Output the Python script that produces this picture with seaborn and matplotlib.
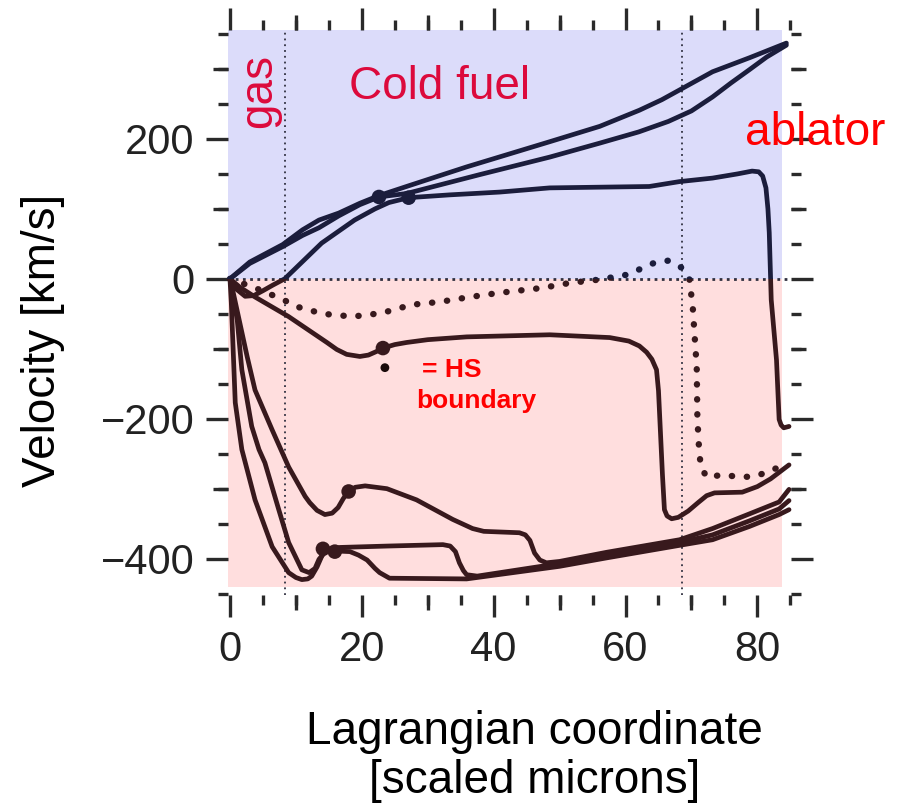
import matplotlib
matplotlib.use("Agg")
import matplotlib.pyplot as plt
from matplotlib.patches import Rectangle
from matplotlib.ticker import MultipleLocator
import pandas as pd
import seaborn as sns

# ---------------- data (Lagrangian coordinate [scaled microns], velocity [km/s]) ----------------
b1_x = [0, 3.0, 8.0, 11.0, 13.5, 16.5, 19.7, 22.6, 27.1, 35.9, 48.5, 56.1, 62.1, 65.5, 68.2, 73.2, 78.8, 84.4]
b1_v = [0, 24, 49, 70, 84, 94, 108, 119, 133, 160, 196, 218, 241, 256, 270, 296, 316, 337]

b2_x = [0, 3.0, 8.0, 11.0, 13.5, 16.5, 19.7, 22.6, 26.8, 37.9, 48.5, 56.1, 62.0, 66.5, 70.0, 73.2, 76.0, 78.8, 81.4, 84.4]
b2_v = [0, 22, 46, 62, 73, 90, 106, 117, 122, 149, 174, 194, 210, 225, 240, 260, 280, 299, 317, 334]

b3_x = [0, 1.0, 2.3, 3.6, 5.0, 6.5, 8.3, 13.9, 18.9, 22.0, 24.1, 27.1, 33.3, 40.9, 48.5, 56.0, 63.6, 68.2, 73.2,
        77.0, 79.2, 80.2, 80.8, 81.3, 81.6, 81.8, 82.1, 82.9, 83.3, 83.6, 84.0, 84.8]
b3_v = [0, -15, -25, -24, -17, -9, 0, 51, 84, 100, 109, 116, 120, 124, 130, 131, 132, 139, 144,
        150, 154, 153, 147, 130, 100, 66, -30, -116, -201, -209, -213, -211]

s1_x = [0, 1.5, 3.8, 8.9, 14.7, 16.2, 17.7, 19.7, 21.0, 22.2, 23.2, 25.0, 26.8, 30.0, 35.9, 48.5, 57.6,
        60.5, 62.1, 63.2, 64.0, 64.7, 65.0, 65.3, 65.6, 65.9, 66.3, 67.0, 68.0, 69.5, 71.0, 72.3,
        73.5, 77.7, 80.0, 82.0, 84.8]
s1_v = [0, -12, -26, -54, -91, -101, -108, -111, -109, -104, -99, -94, -91, -87, -83, -80, -84,
        -89, -96, -105, -115, -130, -160, -220, -280, -330, -339, -343, -341, -332, -320, -310,
        -306, -305, -297, -286, -266]

s2_x = [0, 0.5, 2.6, 3.8, 6.4, 8.9, 11.4, 12.1, 13.2, 14.4, 15.5, 16.4, 17.2, 18.0, 19.0, 20.5, 23.8,
        28.3, 33.8, 36.8, 38.5, 43.9, 44.8, 45.5, 46.2, 47.0, 48.0, 50.0, 57.1, 68.2, 73.2, 78.8, 83.3, 84.8]
s2_v = [0, -20, -111, -159, -216, -269, -311, -320, -331, -337, -335, -327, -314, -304, -298, -296, -300,
        -316, -344, -357, -361, -363, -366, -374, -392, -402, -406, -404, -391, -373, -357, -336, -319, -301]

s3_x = [0, 0.2, 0.8, 1.8, 3.8, 6.4, 8.9, 10.0, 10.9, 11.8, 12.4, 13.2, 13.9, 14.4, 16.7, 24.0, 32.3, 33.4,
        34.2, 34.8, 35.4, 35.9, 37.5, 50.0, 57.1, 68.2, 73.2, 78.8, 83.3, 84.8]
s3_v = [0, -34, -177, -244, -316, -383, -420, -427, -430, -429, -425, -412, -397, -387, -384, -382, -380, -382,
        -390, -406, -417, -423, -425, -407, -394, -377, -366, -346, -329, -317]

s4_x = [0, 1.1, 1.8, 3.3, 4.4, 5.3, 7.4, 8.9, 10.9, 12.0, 12.9, 13.5, 14.3, 15.2, 15.9, 18.2, 19.5,
        20.8, 22.0, 22.7, 24.2, 35.9, 50.0, 57.1, 68.2, 73.2, 78.8, 83.3, 84.8]
s4_v = [0, -59, -130, -211, -244, -263, -330, -377, -416, -420, -414, -401, -392, -388, -389, -390, -395,
        -402, -414, -420, -428, -429, -411, -399, -381, -373, -354, -337, -330]

dot_x = [0, 3.8, 7.9, 10.2, 14.1, 18.6, 23.0, 27.6, 31.8, 36.4, 40.9, 47.4, 51.5, 56.1, 60.3, 64.4,
         66.5, 68.5, 69.7, 70.2, 70.5, 70.8, 70.9, 71.2, 71.5, 72.4, 74.7, 77.0, 79.2, 81.4, 83.3]
dot_v = [0, -13, -29, -40, -50, -54, -49, -37, -33, -26, -20, -13, -6, -1, 6, 23,
         26, 16, -1, -41, -84, -126, -200, -251, -271, -284, -280, -283, -283, -277, -269]

hs_x = [23.2, 18.0, 14.1, 15.9, 22.6, 27.1]
hs_v = [-99, -304, -386, -390, 117, 116]

region_x = [8.3, 68.5]          # gas / cold fuel / ablator boundaries
xticks_major = [0, 20, 40, 60, 80]
yticks_major = [-400, -200, 0, 200]
xticks_mid = [10, 30, 50, 70]
yticks_mid = [-300, -100, 100, 300]

# ---------------- style ----------------
sns.set_theme(style="white")
plt.rcParams["font.family"] = ["Liberation Sans", "DejaVu Sans"]

NAVY = "#1b1d3c"
BROWN = "#38191d"
BLUE_BG = "#dcdcfa"
PINK_BG = "#ffdede"
CRIMSON = "#dc0a3c"
RED = "#ff0000"
TICK = "#2a2a2a"

fig = plt.figure(figsize=(9.04, 8.07), dpi=100)
ax = fig.add_axes([228 / 904, 1 - 595 / 807, 563 / 904, 565 / 807])
ax.set_xlim(-0.3, 85.1)
ax.set_ylim(-452, 355.7)

# background regions
ax.fill_between([-0.3, 83.8], 0, 360, color=BLUE_BG, lw=0, zorder=0)
ax.fill_between([-0.3, 83.8], -441, 0, color=PINK_BG, lw=0, zorder=0)

upper = Rectangle((-10, 0), 200, 2000, transform=ax.transData)
lower = Rectangle((-10, -2000), 200, 2000, transform=ax.transData)

curves = {
    "b1": (b1_x, b1_v), "b2": (b2_x, b2_v), "b3": (b3_x, b3_v),
    "s1": (s1_x, s1_v), "s2": (s2_x, s2_v), "s3": (s3_x, s3_v), "s4": (s4_x, s4_v),
}


def draw(xs, vs, **kw):
    df = pd.DataFrame({"x": xs, "v": vs})
    for col, clip in ((NAVY, upper), (BROWN, lower)):
        n0 = len(ax.lines)
        sns.lineplot(data=df, x="x", y="v", sort=False, estimator=None, ax=ax,
                     color=col, zorder=3, **kw)
        for ln in ax.lines[n0:]:
            ln.set_clip_path(clip)
            ln.set_solid_joinstyle("round")
            ln.set_solid_capstyle("round")


for name, (xs, vs) in curves.items():
    draw(xs, vs, lw=3.4)

draw(dot_x, dot_v, lw=4.6, linestyle=(0, (0.05, 2.3)), dash_capstyle="round")

# reference lines
for xr in region_x:
    ax.axvline(xr, color="#303040", lw=1.3, linestyle=(0, (1, 2.2)), zorder=2)
ax.axhline(0, color="#303040", lw=2.0, linestyle=(0, (1, 1.6)), zorder=2)

# hot-spot boundary markers
hs = pd.DataFrame({"x": hs_x, "v": hs_v})
sns.scatterplot(data=hs[hs.v > 0], x="x", y="v", ax=ax, color=NAVY, s=110,
                edgecolor="none", zorder=4)
sns.scatterplot(data=hs[hs.v < 0], x="x", y="v", ax=ax, color=BROWN, s=110,
                edgecolor="none", zorder=4)
sns.scatterplot(x=[23.5], y=[-127], ax=ax, color="#1a0a0a", s=40, edgecolor="none", zorder=4)

# texts
ax.text(4.4, 269, "gas", rotation=90, ha="center", va="center", fontsize=33, color=CRIMSON)
ax.text(31.8, 257, "Cold fuel", ha="center", va="baseline", fontsize=33, color=CRIMSON)
ax.text(88.8, 191, "ablator", ha="center", va="baseline", fontsize=33, color=RED, clip_on=False)
ax.text(29.2, -140, "= HS", ha="left", va="baseline", fontsize=19, fontweight="bold", color=RED)
ax.text(28.3, -184, "boundary", ha="left", va="baseline", fontsize=19, fontweight="bold", color=RED)

# axes / ticks
for sp in ax.spines.values():
    sp.set_visible(False)
ax.set_xticks(xticks_major)
ax.set_yticks(yticks_major)
ax.xaxis.set_minor_locator(MultipleLocator(5))
ax.yaxis.set_minor_locator(MultipleLocator(50))
ax.tick_params(which="both", direction="out", color=TICK, width=2.4,
               top=True, bottom=True, left=True, right=True)
ax.tick_params(which="major", length=16, labelsize=30, labelcolor="#222222")
ax.tick_params(axis="x", which="major", pad=9)
ax.tick_params(axis="y", which="major", pad=8)
ax.tick_params(which="minor", length=7)

for loc in ("bottom", "top"):
    sec = ax.secondary_xaxis(loc)
    sec.set_xticks(xticks_mid)
    sec.tick_params(direction="out", length=11, width=2.4, color=TICK,
                    labelbottom=False, labeltop=False)
    for sp in sec.spines.values():
        sp.set_visible(False)
for loc in ("left", "right"):
    sec = ax.secondary_yaxis(loc)
    sec.set_yticks(yticks_mid)
    sec.tick_params(direction="out", length=11, width=2.4, color=TICK,
                    labelleft=False, labelright=False)
    for sp in sec.spines.values():
        sp.set_visible(False)

ax.set_xlabel("Lagrangian coordinate\n[scaled microns]", fontsize=33, linespacing=1.15,
              color="black")
ax.xaxis.set_label_coords(0.545, -0.203)
ax.xaxis.label.set_va("top")
ax.set_ylabel("Velocity [km/s]", fontsize=33, color="black")
ax.yaxis.set_label_coords(-0.29, 0.45)

fig.savefig("out.png", dpi=100)
